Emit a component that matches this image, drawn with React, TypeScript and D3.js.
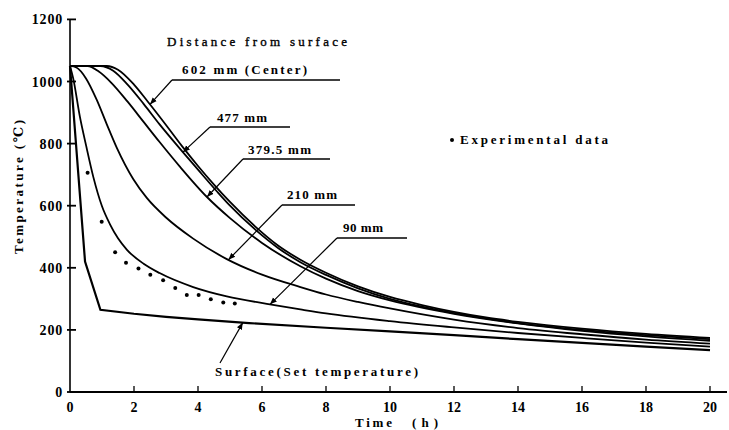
import React from "react";
import * as d3 from "d3";

const W = 729;
const H = 430;

const xTicks = [0, 2, 4, 6, 8, 10, 12, 14, 16, 18, 20];
const yTicks = [0, 200, 400, 600, 800, 1000, 1200];

// Center (602 mm)
const t602 = [0, 1.15, 1.5, 2.0, 2.44, 3.0, 3.5, 4.0, 4.5, 5.0, 5.8, 6.5, 7.2, 8, 9, 10, 11, 12, 13, 14, 16, 18, 20];
const v602 = [1050, 1050, 1038, 990, 934, 860, 792, 728, 668, 612, 532, 472, 426, 384, 340, 306, 280, 258, 240, 226, 204, 187, 174];
// 477 mm
const t477 = [0, 0.95, 1.35, 1.8, 2.3, 2.8, 3.5, 4.0, 4.6, 5.0, 5.8, 6.5, 7.2, 8, 9, 10, 11, 12, 13, 14, 16, 18, 20];
const v477 = [1050, 1050, 1035, 990, 928, 862, 776, 716, 645, 600, 522, 464, 418, 377, 334, 300, 275, 254, 237, 222, 200, 183, 170];
// 379.5 mm
const t379 = [0, 0.55, 0.9, 1.3, 1.8, 2.3, 2.8, 3.44, 4.28, 5, 6, 7.2, 8, 9, 10, 12, 14, 16, 18, 20];
const v379 = [1050, 1050, 1032, 995, 935, 870, 805, 725, 628, 560, 480, 405, 365, 325, 295, 252, 221, 197, 179, 165];
// 210 mm
const t210 = [0, 0.2, 0.5, 0.84, 1.15, 1.46, 1.98, 2.4, 3.0, 3.85, 4.9, 6, 7.2, 8, 9, 10, 12, 14, 16, 18, 20];
const v210 = [1050, 1045, 1010, 940, 862, 787, 685, 625, 562, 494, 428, 378, 338, 314, 290, 269, 233, 206, 186, 169, 156];
// 90 mm
const t90 = [0, 0.1, 0.31, 0.5, 0.73, 1.0, 1.25, 1.5, 1.78, 2.3, 2.8, 3.85, 4.9, 6.15, 7.2, 8, 10, 12, 14, 16, 18, 20];
const v90 = [1050, 1010, 886, 795, 692, 598, 540, 495, 458, 413, 383, 338, 308, 284, 266, 253, 228, 208, 190, 174, 159, 146];
// Surface (set temperature)
const tSurf = [0, 0.47, 0.95, 2, 3, 4, 5.6, 8, 10, 12, 14, 16, 18, 20];
const vSurf = [1050, 420, 265, 252, 242, 234, 222, 207, 195, 183, 170, 158, 146, 135];

// Experimental data
const tExp = [0.55, 0.99, 1.41, 1.75, 2.14, 2.51, 2.91, 3.29, 3.65, 4.02, 4.4, 4.79, 5.15];
const vExp = [706, 548, 450, 416, 398, 378, 360, 335, 312, 312, 299, 288, 285];

const x = d3.scaleLinear().domain([0, 20]).range([70, 710]);
const y = d3.scaleLinear().domain([0, 1200]).range([392, 19.4]);

function interp(ts: number[], vs: number[], t: number) {
  const i = d3.bisectRight(ts, t) - 1;
  const j = Math.min(i + 1, ts.length - 1);
  if (j === i) return vs[i];
  const f = (t - ts[i]) / (ts[j] - ts[i]);
  return vs[i] + f * (vs[j] - vs[i]);
}

const smooth = d3
  .line<[number, number]>()
  .x((d) => x(d[0]))
  .y((d) => y(d[1]))
  .curve(d3.curveMonotoneX);
const straight = d3
  .line<[number, number]>()
  .x((d) => x(d[0]))
  .y((d) => y(d[1]))
  .curve(d3.curveLinear);

const zip = (a: number[], b: number[]) => a.map((v, i) => [v, b[i]] as [number, number]);

const curves = [
  { ts: t602, vs: v602 },
  { ts: t477, vs: v477 },
  { ts: t379, vs: v379 },
  { ts: t210, vs: v210 },
  { ts: t90, vs: v90 },
];

const annos = [
  { label: "602 mm (Center)", tx: 182, ty: 74, tl: 125, ux1: 172, ux2: 340, uy: 80, ts: t602, vs: v602, tt: 2.5 },
  { label: "477 mm", tx: 217, ty: 122, tl: 50, ux1: 210, ux2: 290, uy: 127, ts: t477, vs: v477, tt: 3.53 },
  { label: "379.5 mm", tx: 248, ty: 154, tl: 63, ux1: 243, ux2: 330, uy: 159, ts: t379, vs: v379, tt: 4.28 },
  { label: "210 mm", tx: 287, ty: 199, tl: 50, ux1: 282, ux2: 355, uy: 205, ts: t210, vs: v210, tt: 4.95 },
  { label: "90 mm", tx: 343, ty: 232, tl: 40, ux1: 337, ux2: 407, uy: 238, ts: t90, vs: v90, tt: 6.25 },
];

const FONT = "'Liberation Serif', 'DejaVu Serif', serif";

export default function App() {
  const surfTipT = 5.4;
  return (
    <svg
      width={W}
      height={H}
      viewBox={`0 0 ${W} ${H}`}
      style={{ position: "absolute", left: 0, top: 0, background: "#fff" }}
    >
      <defs>
        <marker id="arr" viewBox="0 0 10 10" refX="10" refY="5" markerWidth="7" markerHeight="7" orient="auto" markerUnits="userSpaceOnUse">
          <path d="M0,1 L10,5 L0,9 z" fill="#000" />
        </marker>
      </defs>
      <rect x={0} y={0} width={W} height={H} fill="#fff" />

      {/* axes */}
      <line x1={x(0)} x2={727} y1={y(0)} y2={y(0)} stroke="#000" strokeWidth={2.2} />
      <line x1={x(0)} x2={x(0)} y1={y(0)} y2={y(1200)} stroke="#000" strokeWidth={1.6} />
      {xTicks.filter((d) => d > 0).map((d) => (
        <line key={"xt" + d} x1={x(d)} x2={x(d)} y1={y(0)} y2={y(0) - 6} stroke="#000" strokeWidth={1.3} />
      ))}
      {yTicks.map((d) => (
        <line key={"yt" + d} x1={x(0) - 3} x2={x(0) + 6} y1={y(d)} y2={y(d)} stroke="#000" strokeWidth={1.8} />
      ))}
      {xTicks.map((d) => (
        <text key={"xl" + d} x={x(d)} y={412} textAnchor="middle" fontFamily={FONT} fontWeight="bold" fontSize={14} fill="#000">
          {d}
        </text>
      ))}
      {yTicks.map((d) => (
        <text key={"yl" + d} x={63} y={y(d) + 5} textAnchor="end" fontFamily={FONT} fontWeight="bold" fontSize={14} letterSpacing={0.8} fill="#000">
          {d}
        </text>
      ))}

      {/* axis titles */}
      <text transform="translate(23,187) rotate(-90)" textAnchor="middle" fontFamily={FONT} fontWeight="bold" fontSize={13} fill="#000" textLength={134} lengthAdjust="spacing">
        Temperature (℃)
      </text>
      <text x={355} y={427} fontFamily={FONT} fontWeight="bold" fontSize={13} fill="#000" textLength={37} lengthAdjust="spacing">
        Time
      </text>
      <text x={412} y={427} fontFamily={FONT} fontWeight="bold" fontSize={13} fill="#000" textLength={26} lengthAdjust="spacing">
        (h)
      </text>

      {/* curves */}
      {curves.map((c, i) => (
        <path key={"c" + i} d={smooth(zip(c.ts, c.vs)) || ""} fill="none" stroke="#000" strokeWidth={1.8} />
      ))}
      <path d={straight(zip(tSurf, vSurf)) || ""} fill="none" stroke="#000" strokeWidth={2.2} strokeLinejoin="miter" />

      {/* experimental points */}
      {tExp.map((t, i) => (
        <circle key={"e" + i} cx={x(t)} cy={y(vExp[i])} r={2} fill="#000" />
      ))}

      {/* annotations */}
      <text x={167} y={46} fontFamily={FONT} fontSize={13} fill="#000" stroke="#000" strokeWidth={0.35} textLength={180} lengthAdjust="spacing">
        Distance from surface
      </text>
      {annos.map((a, i) => (
        <g key={"a" + i}>
          <text x={a.tx} y={a.ty} fontFamily={FONT} fontWeight="bold" fontSize={13} fill="#000" textLength={a.tl} lengthAdjust="spacing">
            {a.label}
          </text>
          <line x1={a.ux1} x2={a.ux2} y1={a.uy} y2={a.uy} stroke="#000" strokeWidth={1.6} />
          <line
            x1={a.ux1}
            y1={a.uy}
            x2={x(a.tt)}
            y2={y(interp(a.ts, a.vs, a.tt))}
            stroke="#000"
            strokeWidth={1.2}
            markerEnd="url(#arr)"
          />
        </g>
      ))}
      <line x1={220} y1={363} x2={x(surfTipT)} y2={y(interp(tSurf, vSurf, surfTipT))} stroke="#000" strokeWidth={1.2} markerEnd="url(#arr)" />
      <text x={215} y={376} fontFamily={FONT} fontSize={13} fontWeight="bold" fill="#000" textLength={203} lengthAdjust="spacing">
        Surface(Set temperature)
      </text>

      <circle cx={452} cy={140} r={2} fill="#000" />
      <text x={460} y={144} fontFamily={FONT} fontSize={13} fontWeight="bold" fill="#000" textLength={148} lengthAdjust="spacing">
        Experimental data
      </text>
    </svg>
  );
}
